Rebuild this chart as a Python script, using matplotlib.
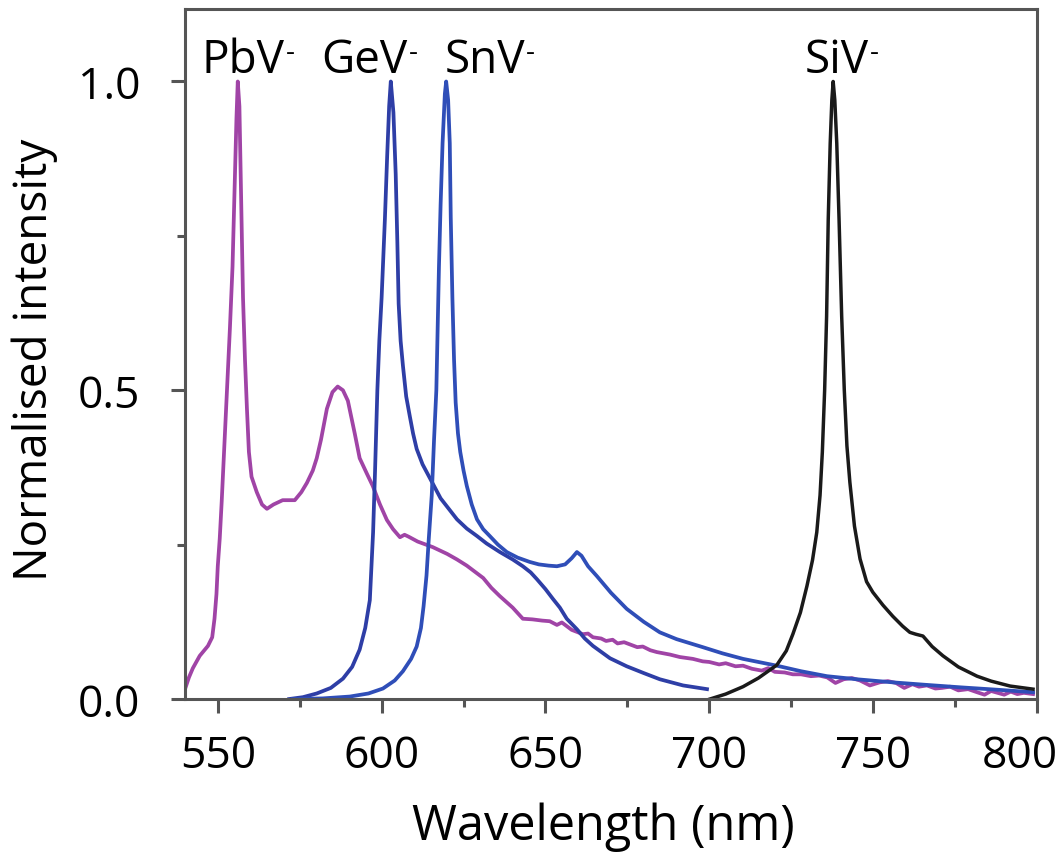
import matplotlib
matplotlib.use("Agg")
import matplotlib.pyplot as plt
from matplotlib.ticker import MultipleLocator

plt.rcParams['font.family'] = ['Open Sans', 'DejaVu Sans']

# PL spectra of group-IV colour centres (wavelength nm, normalised intensity)
pbv_x = [540.0, 541.2, 542.4, 544.5, 547.0, 548.3, 549.0, 549.6, 550.0, 550.6,
         551.2, 552.0, 553.0, 553.7, 554.5, 555.2, 555.7, 556.1, 556.6, 557.1,
         557.7, 558.3, 558.9, 559.5, 560.3, 561.9, 563.5, 565.0, 567.0, 569.8,
         572.0, 573.5, 575.5, 577.2, 579.0, 580.2, 581.5, 583.3, 585.0, 586.6,
         588.2, 589.7, 590.8, 591.8, 593.3, 595.5, 597.3, 599.5, 601.6, 603.5,
         605.6, 607.0, 608.2, 611.0, 615.6, 620.0, 623.0, 626.0, 631.0, 633.5,
         636.0, 640.0, 643.1, 646.0, 649.0, 651.3, 653.5, 655.0, 658.0, 661.4,
         663.0, 664.5, 667.0, 668.5, 670.5, 672.0, 674.0, 676.0, 678.0, 679.7,
         682.0, 684.0, 686.0, 688.0, 691.0, 695.0, 698.0, 700.0, 703.0, 705.0,
         708.0, 710.3, 713.0, 716.0, 718.0, 720.0, 723.0, 725.5, 728.0, 731.0,
         733.5, 736.0, 738.5, 741.0, 743.5, 746.0, 749.0, 752.0, 754.5, 757.0,
         759.5, 762.0, 764.0, 766.4, 769.0, 771.0, 773.5, 776.0, 779.0, 781.7,
         784.0, 786.0, 788.0, 790.0, 792.0, 794.0, 796.0, 798.8]
pbv_y = [0.016, 0.035, 0.05, 0.07, 0.086, 0.1, 0.13, 0.17, 0.215, 0.26,
         0.32, 0.41, 0.52, 0.6, 0.7, 0.84, 0.94, 1.0, 0.96, 0.82,
         0.65, 0.55, 0.47, 0.4, 0.36, 0.335, 0.315, 0.308, 0.315, 0.322,
         0.322, 0.322, 0.335, 0.35, 0.37, 0.39, 0.42, 0.47, 0.497, 0.506,
         0.5, 0.483, 0.455, 0.43, 0.39, 0.365, 0.345, 0.315, 0.29, 0.275,
         0.262, 0.266, 0.263, 0.255, 0.246, 0.235, 0.226, 0.216, 0.196, 0.18,
         0.167, 0.148, 0.13, 0.129, 0.127, 0.126, 0.12, 0.124, 0.112, 0.105,
         0.106, 0.1, 0.098, 0.094, 0.096, 0.09, 0.092, 0.088, 0.084, 0.085,
         0.079, 0.076, 0.074, 0.072, 0.068, 0.065, 0.061, 0.06, 0.056, 0.058,
         0.053, 0.054, 0.049, 0.046, 0.05, 0.044, 0.043, 0.04, 0.04, 0.037,
         0.038, 0.035, 0.026, 0.032, 0.034, 0.03, 0.022, 0.027, 0.029, 0.026,
         0.018, 0.024, 0.02, 0.022, 0.017, 0.018, 0.02, 0.014, 0.016, 0.011,
         0.007, 0.013, 0.01, 0.007, 0.012, 0.008, 0.01, 0.008]

gev_x = [571.8, 576.0, 580.2, 584.5, 588.2, 591.0, 593.3, 595.0, 596.4, 597.4,
         598.0, 598.7, 599.3, 600.0, 601.0, 601.7, 602.3, 602.8, 603.6, 604.3,
         604.8, 605.2, 605.8, 606.5, 607.5, 608.6, 609.6, 610.7, 612.5, 614.7,
         618.0, 623.0, 626.0, 629.1, 632.0, 636.1, 640.0, 643.1, 645.5, 647.4,
         650.0, 652.3, 654.4, 656.5, 659.6, 662.0, 664.5, 669.7, 674.8, 680.0,
         684.9, 692.0, 699.3]
gev_y = [0.0, 0.003, 0.009, 0.018, 0.033, 0.052, 0.08, 0.115, 0.16, 0.27,
         0.37, 0.5, 0.58, 0.65, 0.777, 0.88, 0.96, 1.0, 0.95, 0.85,
         0.74, 0.64, 0.58, 0.54, 0.49, 0.458, 0.43, 0.405, 0.38, 0.358,
         0.325, 0.291, 0.276, 0.264, 0.252, 0.238, 0.226, 0.215, 0.205, 0.194,
         0.178, 0.162, 0.148, 0.13, 0.113, 0.098, 0.086, 0.066, 0.053, 0.042,
         0.032, 0.022, 0.016]

snv_x = [572.9, 582.0, 590.3, 596.0, 600.4, 604.0, 606.5, 609.0, 610.7, 612.0,
         612.8, 613.7, 614.4, 615.3, 616.0, 616.7, 617.1, 617.5, 618.0, 618.6,
         619.3, 619.7, 620.3, 620.8, 621.1, 621.6, 622.1, 622.6, 623.3, 624.0,
         625.0, 626.0, 627.5, 629.1, 631.0, 633.0, 635.5, 638.2, 641.5, 645.2,
         648.0, 651.0, 653.5, 656.0, 658.0, 659.6, 661.0, 663.0, 665.7, 670.0,
         674.8, 680.0, 684.9, 690.0, 698.0, 704.0, 710.3, 720.6, 728.0, 735.9,
         745.0, 756.0, 766.0, 776.5, 788.0, 798.8]
snv_y = [0.0, 0.001, 0.004, 0.009, 0.017, 0.03, 0.045, 0.065, 0.085, 0.115,
         0.15, 0.2, 0.26, 0.33, 0.42, 0.5, 0.6, 0.7, 0.8, 0.9,
         0.98, 1.0, 0.97, 0.9, 0.78, 0.65, 0.55, 0.48, 0.43, 0.4,
         0.37, 0.345, 0.315, 0.291, 0.275, 0.264, 0.25, 0.238, 0.229, 0.222,
         0.218, 0.216, 0.215, 0.218, 0.228, 0.238, 0.232, 0.215, 0.199, 0.172,
         0.146, 0.125, 0.108, 0.097, 0.084, 0.074, 0.065, 0.054, 0.045, 0.037,
         0.032, 0.027, 0.023, 0.019, 0.015, 0.011]

siv_x = [700.2, 705.0, 710.3, 715.0, 720.6, 723.5, 725.5, 727.8, 729.8, 731.5,
         732.8, 733.8, 734.5, 735.2, 735.8, 736.3, 736.9, 737.4, 737.8, 738.3,
         738.9, 739.6, 740.4, 741.2, 742.0, 742.9, 744.3, 746.0, 748.0, 749.9,
         753.0, 756.0, 759.0, 761.2, 763.0, 765.2, 768.0, 771.3, 776.0, 781.7,
         786.0, 791.8, 798.8]
siv_y = [0.0, 0.008, 0.02, 0.034, 0.055, 0.078, 0.105, 0.14, 0.183, 0.225,
         0.27, 0.33, 0.4, 0.5, 0.62, 0.777, 0.9, 0.97, 1.0, 0.97,
         0.9, 0.777, 0.62, 0.5, 0.41, 0.351, 0.28, 0.227, 0.19, 0.173,
         0.152, 0.134, 0.118, 0.108, 0.105, 0.102, 0.085, 0.07, 0.052, 0.037,
         0.029, 0.021, 0.016]

labels = ['PbV', 'GeV', 'SnV', 'SiV']
label_x = [545.1, 581.7, 619.3, 729.2]

xticks = [550, 600, 650, 700, 750, 800]
xtick_labels = ['550', '600', '650', '700', '750', '']

fig = plt.figure(figsize=(10.59, 8.54), dpi=100)
ax = fig.add_axes([0.1747, 0.1803, 0.8045, 0.8077])

ax.plot(pbv_x, pbv_y, color='#a044a6', lw=2.7, solid_joinstyle='round')
ax.plot(gev_x, gev_y, color='#2e3ea6', lw=2.7, solid_joinstyle='round')
ax.plot(snv_x, snv_y, color='#2f4eb8', lw=2.7, solid_joinstyle='round')
ax.plot(siv_x, siv_y, color='#1a1a1a', lw=2.5, solid_joinstyle='round')

# centre names with a small superscript minus
for t, x in zip(labels, label_x):
    txt = ax.text(x, 1.016, t, fontsize=33, ha='left', va='baseline')
    ax.annotate('-', xy=(1, 1), xycoords=txt, xytext=(0.5, -1),
                textcoords='offset points', fontsize=20, ha='left', va='top')

ax.set_xlim(540, 800)
ax.set_ylim(0, 1.117)
ax.set_xticks(xticks)
ax.set_xticklabels(xtick_labels)
ax.xaxis.set_minor_locator(MultipleLocator(25))
ax.set_yticks([0.0, 0.5, 1.0])
ax.set_yticklabels(['0.0', '0.5', '1.0'])
ax.yaxis.set_minor_locator(MultipleLocator(0.25))

for s in ax.spines.values():
    s.set_color('#555555')
    s.set_linewidth(2.2)
ax.tick_params(which='major', direction='out', length=10, width=2.2,
               color='#555555', labelsize=32)
ax.tick_params(axis='x', which='major', pad=15)
ax.tick_params(axis='y', which='major', pad=22)
ax.tick_params(which='minor', direction='out', length=6, width=2.2,
               color='#555555')

# the last x label is pulled slightly inside the right edge
ax.annotate('800', xy=(xticks[-1], 0), xycoords=('data', 'axes fraction'),
            xytext=(-12, -25), textcoords='offset points',
            fontsize=32, ha='center', va='top')

ax.set_xlabel('Wavelength (nm)', fontsize=35)
ax.set_ylabel('Normalised intensity', fontsize=33)
ax.xaxis.set_label_coords(0.4906, -0.148)
ax.yaxis.set_label_coords(-0.149, 0.493)

fig.savefig('out.png', dpi=100)
